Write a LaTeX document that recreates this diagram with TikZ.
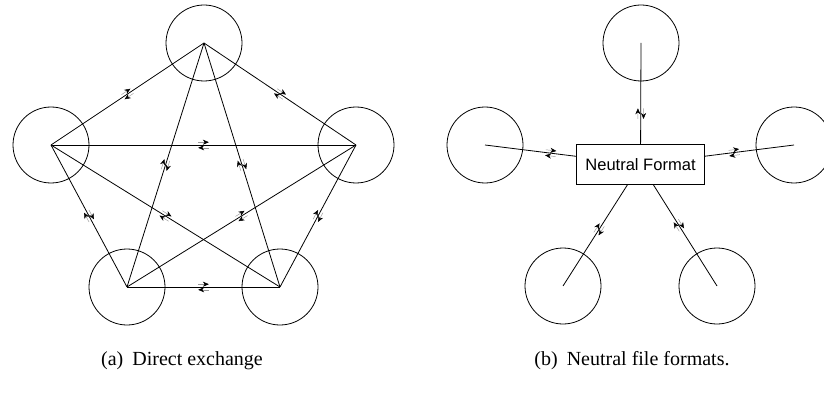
\documentclass[tikz,border=0pt]{standalone}
\usepackage{fontspec}
\setmainfont{Liberation Serif}
\newfontfamily\boxfont{Liberation Sans}
\usetikzlibrary{
  arrows.meta,
  decorations.markings
}
\tikzset{
  station/.style={
    draw,
    circle,
    line width=0.6pt,
    minimum size=57pt,
    inner sep=0pt
  },
  formatBox/.style={
    draw,
    line width=0.6pt,
    minimum width=95.7pt,
    minimum height=30pt,
    inner sep=0pt,
    font=\boxfont\fontsize{12.4}{14}\selectfont
  },
  pairTip/.style={line width=0.35pt, black!40, -{Stealth[length=4.5pt,width=3.8pt,black]}},
  exchange/.style={
    line width=0.6pt,
    postaction={decorate},
    decoration={markings, mark=at position #1 with {
      \draw[pairTip] (-4pt,2.1pt) -- (4pt,2.1pt);
      \draw[pairTip] (4pt,-2.1pt) -- (-4pt,-2.1pt);
    }}
  },
  exchange/.default=0.5,
  caption/.style={font=\fontsize{15}{18}\selectfont, inner sep=0pt}
}

\begin{document}
\begin{tikzpicture}[x=0.75pt,y=-0.75pt]
  \useasboundingbox (0,0) rectangle (824,399);

  % (a) every pair talks directly
  \node[station] (t) at (204,43) {};
  \node[station] (l) at (51,145) {};
  \node[station] (r) at (356,145) {};
  \node[station] (bl) at (127,287) {};
  \node[station] (br) at (280,287) {};

  \draw[exchange] (l.center) -- (t.center);
  \draw[exchange] (t.center) -- (r.center);
  \draw[exchange] (l.center) -- (r.center);
  \draw[exchange] (bl.center) -- (l.center);
  \draw[exchange] (r.center) -- (br.center);
  \draw[exchange] (bl.center) -- (br.center);
  \draw[exchange] (bl.center) -- (t.center);
  \draw[exchange] (t.center) -- (br.center);
  \draw[exchange] (l.center) -- (br.center);
  \draw[exchange] (bl.center) -- (r.center);

  \node[caption] (capA) at (182,361) {(a)\hspace{0.45em}Direct exchange};

  % (b) everything goes through one format
  \node[formatBox] (nf) at (640.5,164.3) {Neutral Format};
  \node[station] (nt) at (641,43) {};
  \node[station] (nl) at (485,145) {};
  \node[station] (nr) at (794,145) {};
  \node[station] (nbl) at (563,286) {};
  \node[station] (nbr) at (717,286) {};

  \draw[exchange=0.7] (nt.center) -- (nf);
  \draw[exchange=0.72] (nl.center) -- (nf);
  \draw[exchange=0.67] (nr.center) -- (nf);
  \draw[exchange=0.56] (nbl.center) -- (nf);
  \draw[exchange=0.6] (nbr.center) -- (nf);

  \node[caption] (capB) at (632,361) {(b)\hspace{0.45em}Neutral file formats.};
\end{tikzpicture}
\end{document}
